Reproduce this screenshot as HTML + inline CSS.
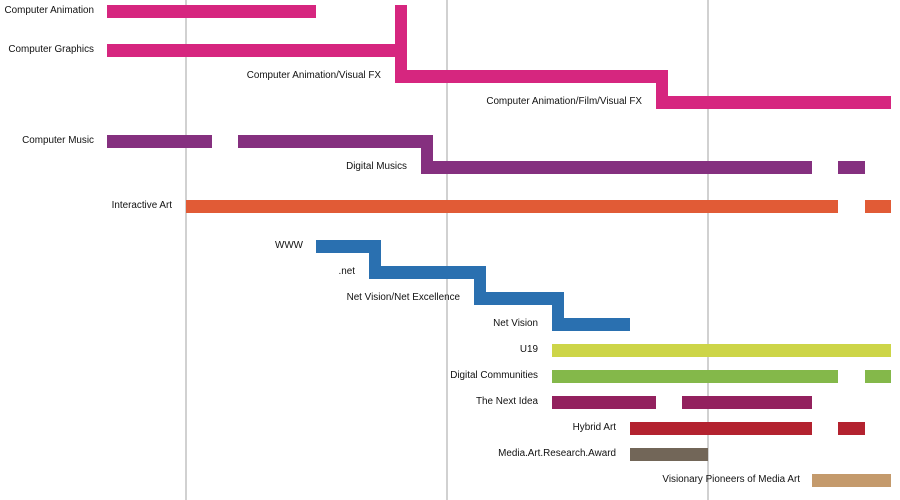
<!DOCTYPE html>
<html><head><meta charset="utf-8"><style>
html,body{margin:0;padding:0;background:#fff;width:900px;height:500px;overflow:hidden}
text{font-family:"Liberation Sans",sans-serif;font-size:9.9px;fill:#111;text-anchor:end}
</style></head><body>
<svg width="900" height="500" viewBox="0 0 900 500" xmlns="http://www.w3.org/2000/svg">
<g stroke="#b8b8b8" stroke-width="1.3">
<line x1="186" y1="0" x2="186" y2="500"/><line x1="447" y1="0" x2="447" y2="500"/><line x1="708" y1="0" x2="708" y2="500"/>
</g>
<g fill="#d6267f">
<rect x="107" y="5" width="209" height="13"/>
<rect x="107" y="44" width="300" height="13"/>
<rect x="395" y="5" width="12" height="78"/>
<rect x="395" y="70" width="273" height="13"/>
<rect x="656" y="70" width="12" height="39"/>
<rect x="656" y="96" width="235" height="13"/>
</g>
<g fill="#85307f">
<rect x="107" y="135" width="105" height="13"/>
<rect x="238" y="135" width="195" height="13"/>
<rect x="421" y="135" width="12" height="39"/>
<rect x="421" y="161" width="391" height="13"/>
<rect x="838" y="161" width="27" height="13"/>
</g>
<g fill="#e15b36">
<rect x="186" y="200" width="652" height="13"/>
<rect x="865" y="200" width="26" height="13"/>
</g>
<g fill="#2a70b0">
<rect x="316" y="240" width="65" height="13"/>
<rect x="369" y="240" width="12" height="39"/>
<rect x="369" y="266" width="117" height="13"/>
<rect x="474" y="266" width="12" height="39"/>
<rect x="474" y="292" width="90" height="13"/>
<rect x="552" y="292" width="12" height="39"/>
<rect x="552" y="318" width="78" height="13"/>
</g>
<rect x="552" y="344" width="339" height="13" fill="#cdd548"/>
<rect x="552" y="370" width="286" height="13" fill="#84b84a"/>
<rect x="865" y="370" width="26" height="13" fill="#84b84a"/>
<rect x="552" y="396" width="104" height="13" fill="#93215e"/>
<rect x="682" y="396" width="130" height="13" fill="#93215e"/>
<rect x="630" y="422" width="182" height="13" fill="#b3222f"/>
<rect x="838" y="422" width="27" height="13" fill="#b3222f"/>
<rect x="630" y="448" width="78" height="13" fill="#726658"/>
<rect x="812" y="474" width="79" height="13" fill="#c49a6c"/>
<text x="94" y="13">Computer Animation</text>
<text x="94" y="52">Computer Graphics</text>
<text x="381" y="78">Computer Animation/Visual FX</text>
<text x="642" y="104">Computer Animation/Film/Visual FX</text>
<text x="94" y="143">Computer Music</text>
<text x="407" y="169">Digital Musics</text>
<text x="172" y="208">Interactive Art</text>
<text x="303" y="248">WWW</text>
<text x="355" y="274">.net</text>
<text x="460" y="300">Net Vision/Net Excellence</text>
<text x="538" y="326">Net Vision</text>
<text x="538" y="352">U19</text>
<text x="538" y="378">Digital Communities</text>
<text x="538" y="404">The Next Idea</text>
<text x="616" y="430">Hybrid Art</text>
<text x="616" y="456">Media.Art.Research.Award</text>
<text x="800" y="482">Visionary Pioneers of Media Art</text>
</svg>
</body></html>
